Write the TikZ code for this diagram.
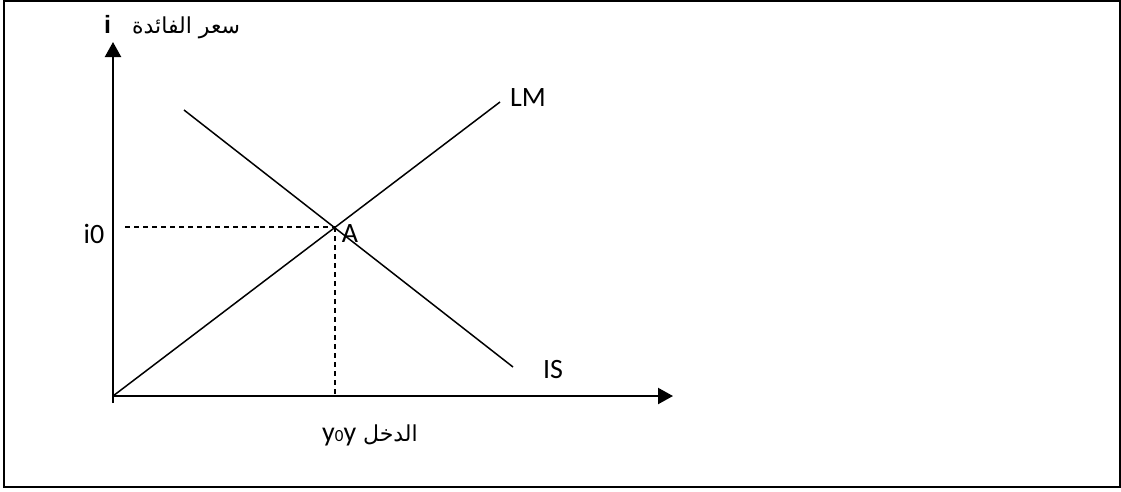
\documentclass[tikz,border=0pt]{standalone}
\usepackage{fontspec}
\setmainfont{Carlito}
\newfontfamily\arabicfont[Script=Arabic]{DejaVu Sans}
\newfontfamily\arialfont{Liberation Sans}
\TeXXeTstate=1
\usetikzlibrary{arrows.meta,positioning}

\begin{document}
\begin{tikzpicture}[
  x=1pt,y=-1pt,
  axis/.style={line width=2.2pt,-{Triangle[length=15pt,width=16pt]}},
  curve/.style={line width=1.5pt},
  guide/.style={line width=1.4pt,dash pattern=on 5pt off 4pt},
  lbl/.style={font=\fontsize{28}{32}\selectfont,inner sep=0pt},
  arlbl/.style={font=\fontsize{22}{26}\selectfont\arabicfont,inner sep=0pt},
]
\useasboundingbox (0,0) rectangle (1121,491);
\draw[line width=2pt] (4,1) rectangle (1119.5,487);

% axes
\coordinate (O) at (113,396);
\coordinate (Olow) at (113,403);
\coordinate (ytip) at (113,42);
\coordinate (xtip) at (673,396);
\draw[axis] (Olow) -- (ytip);
\draw[axis] (O) -- (xtip);

% IS and LM
\coordinate (LMend) at (500,102);
\coordinate (ISstart) at (184,110);
\coordinate (ISend) at (513,367);
\coordinate (A) at (335,227);
\draw[curve] (O) -- (LMend);
\draw[curve] (ISstart) -- (ISend);

% equilibrium guides
\coordinate (i0start) at (125,227);
\coordinate (y0foot) at (335,396);
\draw[guide] (i0start) -- (A);
\draw[guide] (A) -- (y0foot);

% labels
\node[arlbl,anchor=west] (ylabel) at (104,27) {\beginR سعر الفائدة\ \ \ \beginL{\fontsize{25}{28}\selectfont\arialfont\bfseries i}\endL\endR};
\node[lbl] (i0) at (94,234) {i0};
\node[lbl] (Alabel) at (350,234) {A};
\node[lbl] (LM) at (528,98) {LM};
\node[lbl] (IS) at (553,370) {IS};
\node[arlbl] (xlabel) at (370,435) {\beginR الدخل\ \beginL{\fontsize{28}{32}\selectfont\rmfamily y{\fontsize{17}{20}\selectfont 0}y}\endL\endR};
\end{tikzpicture}
\end{document}
